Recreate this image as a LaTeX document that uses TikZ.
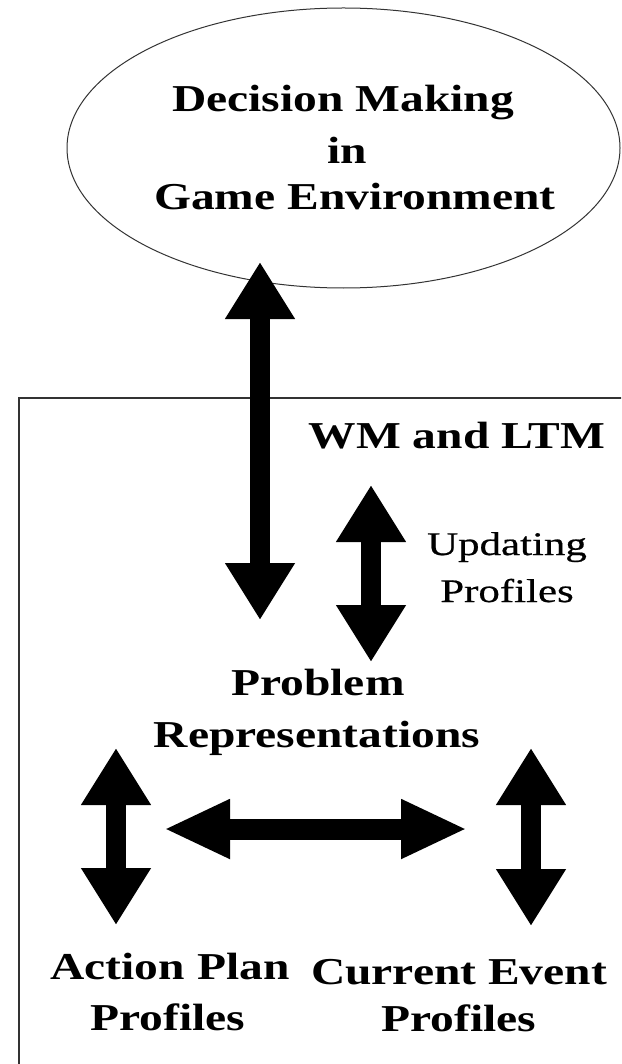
\documentclass[tikz,border=0pt]{standalone}
\usepackage{fontspec}
\setmainfont{Liberation Serif}
\newfontfamily\labf[FakeStretch=1.25]{Liberation Serif}
\newfontfamily\smallf[FakeStretch=1.3,FakeBold=0.6]{Liberation Serif}
\usetikzlibrary{arrows.meta,shapes.geometric}
\tikzset{
  lbl/.style={font=\labf\bfseries\fontsize{38}{49}\selectfont, inner sep=0pt, anchor=base},
  small/.style={font=\smallf\fontsize{33}{47}\selectfont, inner sep=0pt, anchor=base},
  vtip/.tip={Triangle[width=66pt,length=57pt]},
  htip/.tip={Triangle[width=55pt,length=66pt]},
  vblock/.style={line width=20pt, draw=black, vtip-vtip},
  hblock/.style={line width=21pt, draw=black, htip-htip},
  frame/.style={draw=black!80, line width=2.2pt},
  oval/.style={ellipse, draw=black!80, line width=1pt, minimum width=553pt, minimum height=280pt, inner sep=0pt}
}
\begin{document}
\begin{tikzpicture}[x=1pt,y=-1pt]
\useasboundingbox (0,0) rectangle (621,1064);
\clip (0,0) rectangle (621,1064);
\fill[white] (0,0) rectangle (621,1064);

% memory box (open beyond the page on right and bottom)
\coordinate (boxbl) at (19,1100);
\coordinate (boxtr) at (640,398);
\draw[frame] (boxbl) |- (boxtr);

% ellipse
\node[oval] (dm) at (343.5,148) {};
\node[lbl] (dm1) at (343,112) {Decision Making};
\node[lbl] (dm2) at (347,164) {in};
\node[lbl] (dm3) at (355,210) {Game Environment};

% labels
\node[lbl] (wm) at (457,448) {WM and LTM};
\node[small] (up1) at (507,555) {Updating};
\node[small] (up2) at (507,602) {Profiles};
\node[lbl] (pr1) at (318,695) {Problem};
\node[lbl] (pr2) at (317,747) {Representations};
\node[lbl] (ap1) at (170,979) {Action Plan};
\node[lbl] (ap2) at (168,1030) {Profiles};
\node[lbl] (ce1) at (459,984) {Current Event};
\node[lbl] (ce2) at (459,1031) {Profiles};

% arrow end points
\coordinate (bigtop) at (260,262);
\coordinate (bigbot) at (260,620);
\coordinate (uptop) at (371,485);
\coordinate (upbot) at (371,662);
\coordinate (ltop) at (116,748);
\coordinate (lbot) at (116,925);
\coordinate (rtop) at (531,748);
\coordinate (rbot) at (531,926);
\coordinate (hl) at (164,829);
\coordinate (hr) at (467,829);

\draw[vblock] (bigtop) -- (bigbot);
\draw[vblock] (uptop) -- (upbot);
\draw[vblock] (ltop) -- (lbot);
\draw[vblock] (rtop) -- (rbot);
\draw[hblock] (hl) -- (hr);
\end{tikzpicture}
\end{document}
